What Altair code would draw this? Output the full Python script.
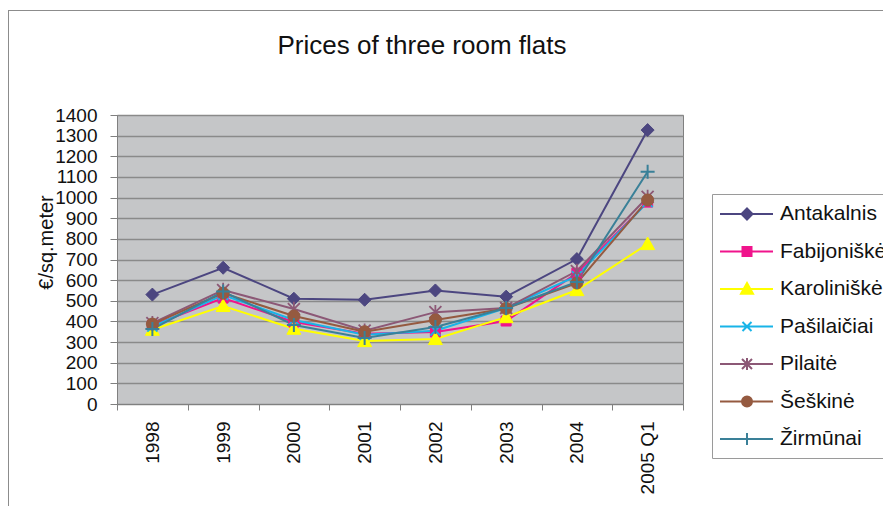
import altair as alt
import pandas as pd

FONT = "Liberation Sans"

# ---------------- data ----------------
categories = ["1998", "1999", "2000", "2001", "2002", "2003", "2004", "2005 Q1"]
series_names = ["Antakalnis", "Fabijoniškės", "Karoliniškės", "Pašilaičiai",
                "Pilaitė", "Šeškinė", "Žirmūnai"]
antakalnis = [530, 660, 510, 505, 550, 520, 702, 1327]
fabijoniskes = [380, 513, 397, 340, 349, 402, 634, 978]
karoliniskes = [360, 475, 365, 305, 315, 421, 552, 775]
pasilaiciai = [375, 528, 407, 335, 355, 465, 620, 978]
pilaite = [392, 552, 460, 355, 445, 465, 644, 1003]
seskine = [387, 537, 426, 350, 407, 463, 586, 988]
zirmunai = [363, 545, 383, 320, 373, 465, 591, 1125]
y_ticks = [0, 100, 200, 300, 400, 500, 600, 700, 800, 900, 1000, 1100, 1200, 1300, 1400]

series_values = [antakalnis, fabijoniskes, karoliniskes, pasilaiciai, pilaite, seskine, zirmunai]

# ---------------- styles ----------------
colors = ["#4C4680", "#F0148C", "#FFFF00", "#18B4E8", "#8C5876", "#955A40", "#3A8098"]
marker_kinds = ["diamond", "square", "triangle", "x", "star", "circle", "plus"]
marker_radius = [6.5, 5, 7, 5, 6, 6, 7]        # px, in the plot
legend_radius = [5.5, 4.5, 6, 4.5, 5, 5, 6]   # px, in the legend
marker_stroke = [1, 1, 1, 1.8, 1.8, 1, 2]


def marker_path(kind, r):
    if kind == "diamond":
        return f"M0,{-r}L{r},0L0,{r}L{-r},0Z"
    if kind == "square":
        return f"M{-r},{-r}L{r},{-r}L{r},{r}L{-r},{r}Z"
    if kind == "triangle":
        return f"M0,{-r}L{r},{0.8*r}L{-r},{0.8*r}Z"
    if kind == "x":
        return f"M{-r},{-r}L{r},{r}M{-r},{r}L{r},{-r}"
    if kind == "star":
        return f"M{-r},{-r}L{r},{r}M{-r},{r}L{r},{-r}M0,{-1.2*r}L0,{1.2*r}"
    if kind == "circle":
        return f"M{r},0A{r},{r},0,1,1,{-r},0A{r},{r},0,1,1,{r},0Z"
    return f"M{-r},0L{r},0M0,{-r}L0,{r}"


LEG_UNIT = 10.0  # sqrt(symbolSize)/2
legend_paths = ["M-2.7,0L2.6,0" + marker_path(k, r / LEG_UNIT)
                for k, r in zip(marker_kinds, legend_radius)]

rows = []
for name, vals in zip(series_names, series_values):
    for c, v in zip(categories, vals):
        rows.append({"district": name, "year": c, "price": v})
df = pd.DataFrame(rows)

color_scale = alt.Scale(domain=series_names, range=colors)

x_enc = alt.X(
    "year:N", sort=categories,
    scale=alt.Scale(type="band", paddingInner=0, paddingOuter=0),
    axis=alt.Axis(title=None, labelAngle=-90, labelFont=FONT, labelFontSize=19,
                  labelColor="#111111", labelPadding=11, tickBand="extent",
                  tickSize=6, tickColor="#808080", domainColor="#808080",
                  grid=False),
)
y_enc = alt.Y(
    "price:Q", scale=alt.Scale(domain=[0, 1400], nice=False, zero=True),
    axis=alt.Axis(title="€/sq.meter", values=y_ticks, format="d",
                  labelFont=FONT, labelFontSize=19, labelColor="#111111",
                  labelPadding=13, tickSize=7, tickColor="#808080",
                  domainColor="#808080", gridColor="#8A8A8A", gridWidth=1.5,
                  titleFont=FONT, titleFontSize=20, titleFontWeight="normal",
                  titleColor="#111111", titleX=-71, titleY=127,
                  titleBaseline="middle"),
)

legend = alt.Legend(
    title=None, orient="none", legendX=595, legendY=79, direction="vertical",
    padding=9, rowPadding=16.5, symbolSize=400, symbolStrokeWidth=2,
    symbolOffset=15, labelOffset=22, labelFont=FONT, labelFontSize=21,
    labelColor="#111111", strokeColor="#9A9A9A", fillColor="white",
    symbolOpacity=1,
)

base = alt.Chart(df)

legend_layer = base.transform_filter(alt.datum.price < 0).mark_point(filled=True).encode(
    x=x_enc, y=y_enc,
    fill=alt.Fill("district:N", scale=color_scale, legend=legend),
    stroke=alt.Stroke("district:N", scale=color_scale, legend=legend),
    shape=alt.Shape("district:N", scale=alt.Scale(domain=series_names, range=legend_paths),
                    legend=legend),
)

lines = base.mark_line(strokeWidth=2).encode(
    x=x_enc, y=y_enc,
    stroke=alt.Stroke("district:N", scale=color_scale, legend=None),
)

point_layers = []
for name, kind, r, sw in zip(series_names, marker_kinds, marker_radius, marker_stroke):
    point_layers.append(
        base.transform_filter(alt.datum.district == name)
        .mark_point(shape=marker_path(kind, 1), size=(2 * r) ** 2, filled=True,
                    strokeWidth=sw, opacity=1)
        .encode(
            x=x_enc, y=y_enc,
            fill=alt.Fill("district:N", scale=color_scale, legend=None),
            stroke=alt.Stroke("district:N", scale=color_scale, legend=None),
        )
    )

one = alt.Chart(pd.DataFrame({"k": [0]}))
border_top = one.mark_rule(color="#8C8C8C", strokeWidth=1).encode(
    x=alt.value(-109), x2=alt.value(800), y=alt.value(-104.5))
border_left = one.mark_rule(color="#8C8C8C", strokeWidth=1).encode(
    x=alt.value(-108.5), y=alt.value(-104.5), y2=alt.value(420))

chart = alt.layer(legend_layer, lines, *point_layers, border_top, border_left).properties(
    width=566, height=289,
    title=alt.TitleParams("Prices of three room flats", font=FONT, fontSize=26,
                          fontWeight="normal", color="#111111", anchor="middle",
                          frame="group", dx=22, baseline="alphabetic", offset=-69.5),
    autosize=alt.AutoSizeParams(type="none"),
    padding={"left": 109, "top": 107, "right": 200, "bottom": 102},
).configure_view(fill="#C5C6C8", stroke="#808080", strokeWidth=1)

chart.save("out.html", embed_options={"renderer": "svg", "actions": False})
